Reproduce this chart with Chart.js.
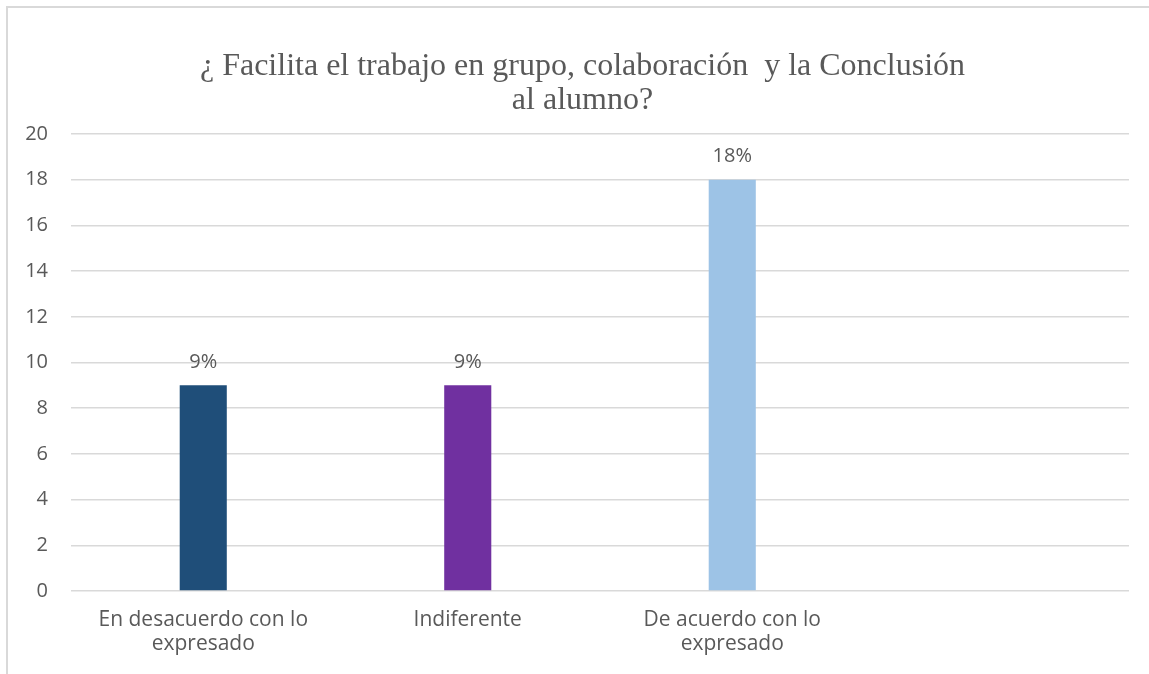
<!DOCTYPE html>
<html>
<head>
<meta charset="utf-8">
<script src="https://cdn.jsdelivr.net/npm/chart.js@4"></script>
<style>
  html, body { margin: 0; padding: 0; background: #fff; overflow: hidden; }
  .card {
    position: absolute; left: 6px; top: 6px; width: 1200px; height: 720px;
    border-top: 2px solid #d9d9d9; border-left: 2px solid #d9d9d9;
  }
  .wrap { position: absolute; left: 0; top: 0; width: 1149px; height: 674px; }
</style>
</head>
<body>
<div class="card"></div>
<div class="wrap"><canvas id="chart"></canvas></div>
<script>
// chart data
const categories = [
  ['En desacuerdo con lo', 'expresado'],
  'Indiferente',
  ['De acuerdo con lo', 'expresado'],
  ''
];
const values = [9, 9, 18, null];
const valueLabels = ['9%', '9%', '18%', ''];
const barColors = ['#1F4E79', '#7030A0', '#9DC3E6', '#9DC3E6'];
const titleLines = ['¿ Facilita el trabajo en grupo, colaboración  y la Conclusión', 'al alumno?'];

const textColor = '#595959';
const sansFont = "'Open Sans', 'Noto Sans', sans-serif";

// draws the percent labels above the bars
const barLabels = {
  id: 'barLabels',
  afterDatasetsDraw(chart) {
    const ctx = chart.ctx;
    const meta = chart.getDatasetMeta(0);
    ctx.save();
    ctx.font = '20px ' + sansFont;
    ctx.fillStyle = textColor;
    ctx.textAlign = 'center';
    ctx.textBaseline = 'middle';
    meta.data.forEach((bar, i) => {
      if (values[i] == null) return;
      ctx.fillText(valueLabels[i], bar.x, bar.y - 23);
    });
    ctx.restore();
  }
};

// the title sits a little right of the canvas centre in the original
const titleShift = {
  id: 'titleShift',
  afterLayout(chart) {
    if (chart.titleBlock) chart.titleBlock.left += 28;
  }
};

new Chart(document.getElementById('chart'), {
  type: 'bar',
  data: {
    labels: categories,
    datasets: [{
      data: values,
      backgroundColor: barColors,
      categoryPercentage: 1,
      barPercentage: 0.178
    }]
  },
  options: {
    responsive: true,
    maintainAspectRatio: false,
    animation: false,
    layout: { padding: { left: 8, top: 30, right: 20, bottom: 0 } },
    plugins: {
      legend: { display: false },
      tooltip: { enabled: false },
      title: {
        display: true,
        text: titleLines,
        color: textColor,
        font: { family: "'Liberation Serif', 'Times New Roman', serif", size: 32, weight: 'normal', lineHeight: '34px' },
        padding: { top: 20, bottom: 16 }
      }
    },
    scales: {
      x: {
        grid: { display: false, drawTicks: false },
        border: { display: false },
        ticks: {
          color: textColor,
          font: { family: sansFont, size: 21, lineHeight: '24px' },
          padding: 17,
          maxRotation: 0
        },
        afterFit(scale) { scale.height = 83; }
      },
      y: {
        min: 0,
        max: 20,
        ticks: {
          stepSize: 2,
          color: textColor,
          font: { family: sansFont, size: 20 },
          padding: 23
        },
        grid: { color: '#d9d9d9', lineWidth: 1.5, drawTicks: false },
        border: { display: false },
        afterFit(scale) { scale.width = 63; }
      }
    }
  },
  plugins: [barLabels, titleShift]
});
</script>
</body>
</html>
